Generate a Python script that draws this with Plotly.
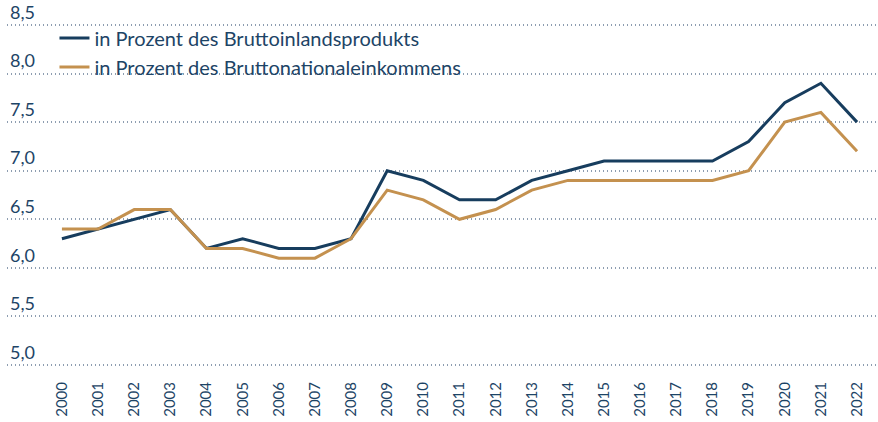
import plotly.graph_objects as go

years = list(range(2000, 2023))
year_labels = [str(y) for y in years]
bip = [6.3, 6.4, 6.5, 6.6, 6.2, 6.3, 6.2, 6.2, 6.3, 7.0, 6.9, 6.7, 6.7, 6.9, 7.0, 7.1, 7.1, 7.1, 7.1, 7.3, 7.7, 7.9, 7.5]
bne = [6.4, 6.4, 6.6, 6.6, 6.2, 6.2, 6.1, 6.1, 6.3, 6.8, 6.7, 6.5, 6.6, 6.8, 6.9, 6.9, 6.9, 6.9, 6.9, 7.0, 7.5, 7.6, 7.2]
y_ticks = [5.0, 5.5, 6.0, 6.5, 7.0, 7.5, 8.0, 8.5]

navy = "#173d5e"
gold = "#c4914f"
text_col = "#1d4466"

fig = go.Figure()
fig.add_trace(go.Scatter(x=years, y=bip, mode="lines", name="in Prozent des Bruttoinlandsprodukts",
                         line=dict(color=navy, width=3)))
fig.add_trace(go.Scatter(x=years, y=bne, mode="lines", name="in Prozent des Bruttonationaleinkommens",
                         line=dict(color=gold, width=3)))

fig.update_layout(
    width=878, height=422,
    margin=dict(l=7, r=0, t=0, b=53, autoexpand=False),
    paper_bgcolor="white", plot_bgcolor="white",
    separators=",.",
    font=dict(family="Lato", color=text_col),
    showlegend=True,
    legend=dict(x=0.0545, y=0.95, xanchor="left", yanchor="top",
                font=dict(size=20, color=text_col), bgcolor="rgba(0,0,0,0)",
                tracegroupgap=0),
)
fig.update_xaxes(range=[1998.48, 2022.58], tickmode="array", tickvals=years, ticktext=year_labels,
                 tickangle=-90, showgrid=False, zeroline=False, showline=False, automargin=False,
                 tickfont=dict(size=15, color=text_col), ticks="", ticklabelstandoff=9)
fig.update_yaxes(range=[4.959, 8.757], tickmode="array", tickvals=y_ticks, tickformat=".1f",
                 ticklabelposition="inside top", showgrid=True, gridcolor="#8d9db0",
                 griddash="1px,3px", gridwidth=1.5, zeroline=False, showline=False, automargin=False,
                 tickfont=dict(size=18, color=text_col), ticks="")

fig.write_html("out.html", config={"displayModeBar": False},
               post_script="document.body.style.margin='0';")
